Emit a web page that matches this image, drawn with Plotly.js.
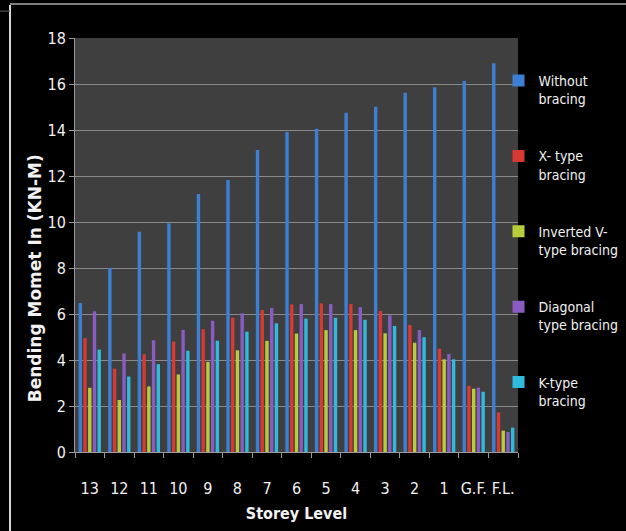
<!DOCTYPE html>
<html>
<head>
<meta charset="utf-8">
<script src="https://cdn.plot.ly/plotly-3.0.1.min.js"></script>
<style>
html,body{margin:0;padding:0;background:#000;}
#chart{width:626px;height:531px;}
</style>
</head>
<body>
<div id="chart"></div>
<script>
const storeyLevels = ["13","12","11","10","9","8","7","6","5","4","3","2","1","G.F.","F.L."];
const withoutBracing = [6.48, 8.0, 9.58, 9.94, 11.22, 11.83, 13.13, 13.91, 14.05, 14.75, 15.01, 15.62, 15.86, 16.13, 16.9];
const xTypeBracing = [4.95, 3.62, 4.25, 4.8, 5.34, 5.84, 6.17, 6.41, 6.47, 6.43, 6.13, 5.52, 4.49, 2.88, 1.72];
const invertedVBracing = [2.79, 2.26, 2.85, 3.37, 3.92, 4.42, 4.83, 5.15, 5.3, 5.3, 5.16, 4.75, 4.03, 2.75, 0.93];
const diagonalBracing = [6.12, 4.28, 4.86, 5.31, 5.71, 6.03, 6.26, 6.43, 6.43, 6.3, 5.94, 5.3, 4.26, 2.8, 0.87];
const kTypeBracing = [4.45, 3.28, 3.82, 4.4, 4.84, 5.23, 5.6, 5.8, 5.84, 5.75, 5.48, 4.99, 4.03, 2.62, 1.06];
const seriesNames = ["Without<br>bracing", "X- type<br>bracing", "Inverted V-<br>type bracing", "Diagonal<br>type bracing", "K-type<br>bracing"];
const seriesColors = ["#3d7fd3", "#d63a33", "#b9cc3c", "#8a5cc2", "#2fbade"];
const yTickValues = [0,2,4,6,8,10,12,14,16,18];

const seriesData = [withoutBracing, xTypeBracing, invertedVBracing, diagonalBracing, kTypeBracing];
const narrow = "DejaVu Sans Condensed, Liberation Sans Narrow, Arial Narrow, sans-serif";

const traces = seriesData.map((vals, i) => ({
  type: "bar",
  x: storeyLevels,
  y: vals,
  name: seriesNames[i],
  legendgroup: "g" + i,
  marker: {color: seriesColors[i], line: {width: 0}},
  hoverinfo: "x+y+name"
}));

const layout = {
  width: 626,
  height: 531,
  paper_bgcolor: "#000000",
  plot_bgcolor: "#3f3f3f",
  margin: {l: 75, r: 108, t: 38, b: 79, autoexpand: false},
  barmode: "group",
  bargap: 0.2,
  bargroupgap: 0.28,
  showlegend: true,
  legend: {
    x: 0.956, xanchor: "left",
    y: 0.935, yanchor: "top",
    bgcolor: "rgba(0,0,0,0)",
    font: {family: narrow, size: 14, color: "#f2f2f2"},
    tracegroupgap: 36,
    valign: "top",
    traceorder: "grouped",
    itemwidth: 30
  },
  xaxis: {
    type: "category",
    tickangle: 0,
    tickfont: {family: narrow, size: 16, color: "#f2f2f2"},
    ticks: "outside",
    tickson: "boundaries",
    ticklen: 5,
    tickcolor: "#9a9a9a",
    showline: true,
    linecolor: "#9a9a9a",
    linewidth: 1,
    ticklabelstandoff: 22,
    showgrid: false,
    title: {text: "<b>Storey Level</b>", font: {family: narrow, size: 16, color: "#f2f2f2"}, standoff: 10}
  },
  yaxis: {
    range: [0, 18],
    tickvals: yTickValues,
    tickfont: {family: narrow, size: 16, color: "#f2f2f2"},
    ticks: "outside",
    ticklen: 5,
    tickcolor: "#9a9a9a",
    showline: true,
    linecolor: "#9a9a9a",
    linewidth: 1,
    showgrid: true,
    gridcolor: "#8a8a8a",
    gridwidth: 1,
    zeroline: false
  },
  annotations: [{
    text: "<b>Bending Momet In (KN-M)</b>",
    xref: "paper", yref: "paper",
    x: -0.09, y: 0.42,
    xanchor: "center", yanchor: "middle",
    textangle: -90,
    showarrow: false,
    font: {family: "DejaVu Sans, Verdana, sans-serif", size: 17, color: "#f2f2f2"}
  }],
  shapes: [
    {type: "line", xref: "paper", yref: "paper", x0: -0.1467, x1: -0.1467, y0: 1.08, y1: -0.2, line: {color: "#d8d8d8", width: 2}},
    {type: "line", xref: "paper", yref: "paper", x0: -0.1467, x1: 1.25, y0: 1.0821, y1: 1.0821, line: {color: "#a8a8a8", width: 1.5}},
    {type: "line", xref: "paper", yref: "paper", x0: -0.17, x1: -0.1467, y0: 1.065, y1: 1.065, line: {color: "#606060", width: 1}}
  ]
};

Plotly.newPlot("chart", traces, layout, {displayModeBar: false, staticPlot: true});
</script>
</body>
</html>
